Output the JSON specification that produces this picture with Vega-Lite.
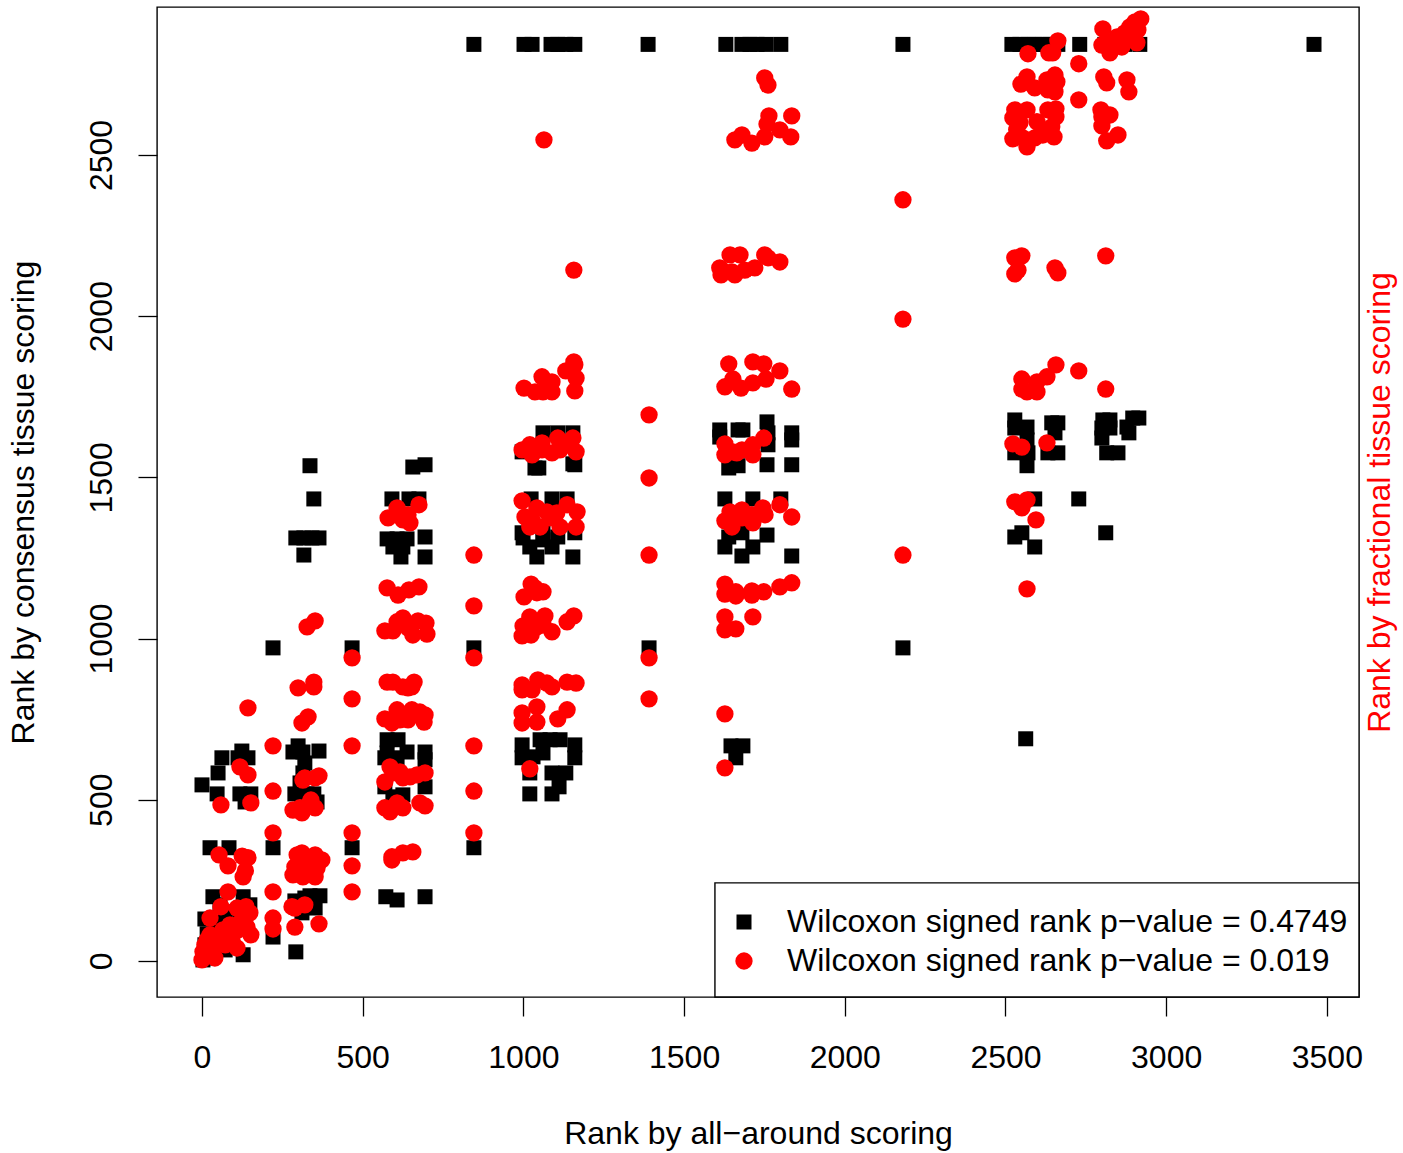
{"$schema":"https://vega.github.io/schema/vega-lite/v6.json","autosize":{"type":"none"},"padding":{"left":157,"top":7,"right":44,"bottom":156},"width":1202,"height":990,"background":"white",
"config":{"font":"Liberation Sans","view":{"stroke":"black","strokeWidth":1.4},"axis":{"grid":false,"domain":false,"tickColor":"black","tickWidth":1.3,"tickSize":19,"labelColor":"black","labelFontSize":32,"titleFontSize":32,"titleFontWeight":"normal","titleColor":"black","labelFont":"Liberation Sans","titleFont":"Liberation Sans"},"legend":{"labelFont":"Liberation Sans"}},
"datasets":{
"box":[{"x":1596,"x2":3600,"y":-112,"y2":242}],
"consensus":[
{"series":"consensus","x":846,"y":2843},{"series":"consensus","x":1002,"y":2843},{"series":"consensus","x":1027,"y":2843},{"series":"consensus","x":1086,"y":2843},{"series":"consensus","x":1107,"y":2843},{"series":"consensus","x":1132,"y":2843},{"series":"consensus","x":1160,"y":2843},{"series":"consensus","x":1388,"y":2843},{"series":"consensus","x":1630,"y":2843},{"series":"consensus","x":1680,"y":2843},{"series":"consensus","x":1705,"y":2843},{"series":"consensus","x":1727,"y":2843},{"series":"consensus","x":1755,"y":2843},{"series":"consensus","x":1801,"y":2843},{"series":"consensus","x":2181,"y":2843},{"series":"consensus","x":2520,"y":2843},{"series":"consensus","x":2545,"y":2843},{"series":"consensus","x":2570,"y":2843},{"series":"consensus","x":2591,"y":2843},{"series":"consensus","x":2616,"y":2843},{"series":"consensus","x":2638,"y":2843},{"series":"consensus","x":2663,"y":2843},{"series":"consensus","x":2731,"y":2843},{"series":"consensus","x":2809,"y":2843},{"series":"consensus","x":2840,"y":2843},{"series":"consensus","x":2871,"y":2843},{"series":"consensus","x":2918,"y":2843},{"series":"consensus","x":3460,"y":2843},
{"series":"consensus","x":62,"y":630},{"series":"consensus","x":124,"y":651},{"series":"consensus","x":143,"y":630},{"series":"consensus","x":112,"y":630},{"series":"consensus","x":50,"y":583},{"series":"consensus","x":0,"y":546},{"series":"consensus","x":47,"y":518},{"series":"consensus","x":118,"y":518},{"series":"consensus","x":152,"y":518},{"series":"consensus","x":134,"y":493},{"series":"consensus","x":25,"y":351},{"series":"consensus","x":84,"y":351},
{"series":"consensus","x":34,"y":199},{"series":"consensus","x":128,"y":199},{"series":"consensus","x":56,"y":174},{"series":"consensus","x":149,"y":174},{"series":"consensus","x":9,"y":130},{"series":"consensus","x":72,"y":152},{"series":"consensus","x":16,"y":84},{"series":"consensus","x":44,"y":112},{"series":"consensus","x":118,"y":143},{"series":"consensus","x":9,"y":50},{"series":"consensus","x":128,"y":19},{"series":"consensus","x":3,"y":3},{"series":"consensus","x":25,"y":9},{"series":"consensus","x":72,"y":34},
{"series":"consensus","x":299,"y":667},{"series":"consensus","x":283,"y":648},{"series":"consensus","x":364,"y":651},{"series":"consensus","x":314,"y":648},{"series":"consensus","x":320,"y":614},{"series":"consensus","x":314,"y":583},{"series":"consensus","x":305,"y":552},{"series":"consensus","x":289,"y":518},{"series":"consensus","x":327,"y":518},{"series":"consensus","x":348,"y":518},{"series":"consensus","x":311,"y":493},{"series":"consensus","x":358,"y":493},
{"series":"consensus","x":367,"y":202},{"series":"consensus","x":336,"y":202},{"series":"consensus","x":289,"y":186},{"series":"consensus","x":320,"y":195},{"series":"consensus","x":352,"y":164},{"series":"consensus","x":311,"y":149},{"series":"consensus","x":292,"y":28},{"series":"consensus","x":221,"y":971},{"series":"consensus","x":336,"y":1536},{"series":"consensus","x":348,"y":1433},{"series":"consensus","x":292,"y":1312},{"series":"consensus","x":317,"y":1312},{"series":"consensus","x":342,"y":1312},{"series":"consensus","x":364,"y":1312},{"series":"consensus","x":317,"y":1259},
{"series":"consensus","x":221,"y":351},{"series":"consensus","x":221,"y":74},{"series":"consensus","x":467,"y":971},{"series":"consensus","x":467,"y":351},{"series":"consensus","x":846,"y":971},{"series":"consensus","x":846,"y":351},{"series":"consensus","x":1391,"y":971},
{"series":"consensus","x":576,"y":686},{"series":"consensus","x":610,"y":686},{"series":"consensus","x":576,"y":645},{"series":"consensus","x":638,"y":648},{"series":"consensus","x":694,"y":648},{"series":"consensus","x":569,"y":630},{"series":"consensus","x":607,"y":630},{"series":"consensus","x":694,"y":624},{"series":"consensus","x":569,"y":540},{"series":"consensus","x":694,"y":540},{"series":"consensus","x":594,"y":509},{"series":"consensus","x":625,"y":515},{"series":"consensus","x":572,"y":199},{"series":"consensus","x":607,"y":189},{"series":"consensus","x":694,"y":199},
{"series":"consensus","x":996,"y":670},{"series":"consensus","x":1052,"y":686},{"series":"consensus","x":1083,"y":686},{"series":"consensus","x":1114,"y":686},{"series":"consensus","x":1160,"y":670},{"series":"consensus","x":996,"y":630},{"series":"consensus","x":1030,"y":633},{"series":"consensus","x":1061,"y":645},{"series":"consensus","x":1160,"y":630},{"series":"consensus","x":1020,"y":583},{"series":"consensus","x":1089,"y":583},{"series":"consensus","x":1132,"y":583},{"series":"consensus","x":1111,"y":540},{"series":"consensus","x":1020,"y":518},{"series":"consensus","x":1089,"y":518},
{"series":"consensus","x":656,"y":1532},{"series":"consensus","x":694,"y":1539},{"series":"consensus","x":591,"y":1433},{"series":"consensus","x":644,"y":1433},{"series":"consensus","x":675,"y":1433},{"series":"consensus","x":576,"y":1309},{"series":"consensus","x":607,"y":1309},{"series":"consensus","x":638,"y":1309},{"series":"consensus","x":694,"y":1315},{"series":"consensus","x":594,"y":1284},{"series":"consensus","x":625,"y":1284},{"series":"consensus","x":619,"y":1253},{"series":"consensus","x":694,"y":1253},
{"series":"consensus","x":1061,"y":1638},{"series":"consensus","x":1107,"y":1638},{"series":"consensus","x":1154,"y":1638},{"series":"consensus","x":996,"y":1579},{"series":"consensus","x":1036,"y":1529},{"series":"consensus","x":1048,"y":1529},{"series":"consensus","x":1154,"y":1542},{"series":"consensus","x":1160,"y":1539},{"series":"consensus","x":1024,"y":1433},{"series":"consensus","x":1089,"y":1433},{"series":"consensus","x":1136,"y":1433},{"series":"consensus","x":996,"y":1328},{"series":"consensus","x":1160,"y":1328},{"series":"consensus","x":999,"y":1312},{"series":"consensus","x":1020,"y":1284},{"series":"consensus","x":1061,"y":1306},{"series":"consensus","x":1089,"y":1284},{"series":"consensus","x":1107,"y":1315},{"series":"consensus","x":1042,"y":1253},{"series":"consensus","x":1154,"y":1253},{"series":"consensus","x":1061,"y":1328},
{"series":"consensus","x":1611,"y":1647},{"series":"consensus","x":1668,"y":1647},{"series":"consensus","x":1683,"y":1647},{"series":"consensus","x":1758,"y":1672},{"series":"consensus","x":1761,"y":1638},{"series":"consensus","x":1835,"y":1638},{"series":"consensus","x":1835,"y":1616},{"series":"consensus","x":1758,"y":1539},{"series":"consensus","x":1835,"y":1539},{"series":"consensus","x":1639,"y":1529},{"series":"consensus","x":1668,"y":1536},{"series":"consensus","x":1611,"y":1625},{"series":"consensus","x":1761,"y":1601},{"series":"consensus","x":1627,"y":1433},{"series":"consensus","x":1714,"y":1433},{"series":"consensus","x":1801,"y":1433},{"series":"consensus","x":1639,"y":1315},{"series":"consensus","x":1680,"y":1328},{"series":"consensus","x":1758,"y":1321},{"series":"consensus","x":1627,"y":1284},{"series":"consensus","x":1714,"y":1284},{"series":"consensus","x":1680,"y":1256},{"series":"consensus","x":1835,"y":1256},
{"series":"consensus","x":1646,"y":667},{"series":"consensus","x":1683,"y":667},{"series":"consensus","x":1661,"y":630},{"series":"consensus","x":2563,"y":689},{"series":"consensus","x":2181,"y":971},
{"series":"consensus","x":2529,"y":1678},{"series":"consensus","x":2567,"y":1656},{"series":"consensus","x":2529,"y":1653},{"series":"consensus","x":2567,"y":1616},{"series":"consensus","x":2529,"y":1576},{"series":"consensus","x":2570,"y":1576},{"series":"consensus","x":2567,"y":1536},{"series":"consensus","x":2644,"y":1669},{"series":"consensus","x":2663,"y":1669},{"series":"consensus","x":2654,"y":1638},{"series":"consensus","x":2632,"y":1576},{"series":"consensus","x":2663,"y":1576},{"series":"consensus","x":2803,"y":1678},{"series":"consensus","x":2825,"y":1678},{"series":"consensus","x":2800,"y":1653},{"series":"consensus","x":2825,"y":1653},{"series":"consensus","x":2800,"y":1622},{"series":"consensus","x":2815,"y":1576},{"series":"consensus","x":2850,"y":1576},{"series":"consensus","x":2878,"y":1656},{"series":"consensus","x":2884,"y":1638},{"series":"consensus","x":2896,"y":1684},{"series":"consensus","x":2915,"y":1684},
{"series":"consensus","x":2591,"y":1433},{"series":"consensus","x":2728,"y":1433},{"series":"consensus","x":2551,"y":1328},{"series":"consensus","x":2529,"y":1315},{"series":"consensus","x":2591,"y":1284},{"series":"consensus","x":2812,"y":1328}
],
"fractional":[
{"series":"fractional","x":2663,"y":2854},{"series":"fractional","x":2647,"y":2817},{"series":"fractional","x":2635,"y":2817},{"series":"fractional","x":2570,"y":2814},{"series":"fractional","x":2803,"y":2891},{"series":"fractional","x":2921,"y":2922},{"series":"fractional","x":2903,"y":2913},{"series":"fractional","x":2887,"y":2897},{"series":"fractional","x":2871,"y":2879},{"series":"fractional","x":2847,"y":2866},{"series":"fractional","x":2825,"y":2848},{"series":"fractional","x":2800,"y":2841},{"series":"fractional","x":2825,"y":2817},{"series":"fractional","x":2862,"y":2835},{"series":"fractional","x":2909,"y":2848},{"series":"fractional","x":2893,"y":2866},{"series":"fractional","x":2912,"y":2888},{"series":"fractional","x":2728,"y":2783},{"series":"fractional","x":2728,"y":2671},{"series":"fractional","x":2567,"y":2742},{"series":"fractional","x":2548,"y":2720},{"series":"fractional","x":2591,"y":2708},{"series":"fractional","x":2629,"y":2733},{"series":"fractional","x":2654,"y":2748},{"series":"fractional","x":2660,"y":2727},{"series":"fractional","x":2654,"y":2696},{"series":"fractional","x":2632,"y":2702},{"series":"fractional","x":2806,"y":2742},{"series":"fractional","x":2815,"y":2724},{"series":"fractional","x":2878,"y":2733},{"series":"fractional","x":2884,"y":2696},
{"series":"fractional","x":2529,"y":2640},{"series":"fractional","x":2567,"y":2640},{"series":"fractional","x":2523,"y":2615},{"series":"fractional","x":2545,"y":2600},{"series":"fractional","x":2598,"y":2603},{"series":"fractional","x":2632,"y":2640},{"series":"fractional","x":2657,"y":2643},{"series":"fractional","x":2657,"y":2618},{"series":"fractional","x":2644,"y":2587},{"series":"fractional","x":2535,"y":2578},{"series":"fractional","x":2523,"y":2550},{"series":"fractional","x":2554,"y":2553},{"series":"fractional","x":2567,"y":2525},{"series":"fractional","x":2591,"y":2553},{"series":"fractional","x":2616,"y":2562},{"series":"fractional","x":2651,"y":2556},{"series":"fractional","x":2797,"y":2640},{"series":"fractional","x":2825,"y":2624},{"series":"fractional","x":2800,"y":2590},{"series":"fractional","x":2800,"y":2618},{"series":"fractional","x":2815,"y":2544},{"series":"fractional","x":2850,"y":2562},
{"series":"fractional","x":1064,"y":2547},{"series":"fractional","x":1157,"y":2143},{"series":"fractional","x":2181,"y":2361},{"series":"fractional","x":2181,"y":1991},{"series":"fractional","x":2181,"y":1259},{"series":"fractional","x":1391,"y":1694},{"series":"fractional","x":1391,"y":1498},{"series":"fractional","x":1391,"y":1259},{"series":"fractional","x":1391,"y":940},{"series":"fractional","x":1391,"y":813},{"series":"fractional","x":846,"y":1259},{"series":"fractional","x":846,"y":1101},{"series":"fractional","x":846,"y":940},{"series":"fractional","x":846,"y":667},{"series":"fractional","x":846,"y":527},{"series":"fractional","x":846,"y":397},{"series":"fractional","x":221,"y":667},{"series":"fractional","x":221,"y":527},{"series":"fractional","x":221,"y":397},{"series":"fractional","x":221,"y":214},{"series":"fractional","x":221,"y":133},{"series":"fractional","x":221,"y":99},{"series":"fractional","x":467,"y":940},{"series":"fractional","x":467,"y":813},{"series":"fractional","x":467,"y":667},{"series":"fractional","x":467,"y":397},{"series":"fractional","x":467,"y":295},{"series":"fractional","x":467,"y":214},
{"series":"fractional","x":143,"y":785},{"series":"fractional","x":118,"y":602},{"series":"fractional","x":143,"y":577},{"series":"fractional","x":59,"y":484},{"series":"fractional","x":152,"y":490},{"series":"fractional","x":53,"y":329},{"series":"fractional","x":81,"y":295},{"series":"fractional","x":143,"y":320},{"series":"fractional","x":125,"y":325},{"series":"fractional","x":128,"y":261},{"series":"fractional","x":135,"y":280},{"series":"fractional","x":81,"y":214},{"series":"fractional","x":59,"y":168},{"series":"fractional","x":25,"y":133},{"series":"fractional","x":109,"y":164},{"series":"fractional","x":137,"y":168},{"series":"fractional","x":149,"y":149},{"series":"fractional","x":152,"y":81},{"series":"fractional","x":109,"y":40},{"series":"fractional","x":140,"y":105},{"series":"fractional","x":118,"y":118},{"series":"fractional","x":93,"y":87},{"series":"fractional","x":65,"y":74},{"series":"fractional","x":40,"y":56},{"series":"fractional","x":16,"y":65},{"series":"fractional","x":40,"y":9},{"series":"fractional","x":0,"y":3},{"series":"fractional","x":3,"y":28},{"series":"fractional","x":9,"y":50},{"series":"fractional","x":65,"y":96},{"series":"fractional","x":93,"y":65},{"series":"fractional","x":25,"y":81},{"series":"fractional","x":112,"y":96},{"series":"fractional","x":19,"y":19},{"series":"fractional","x":72,"y":50},{"series":"fractional","x":50,"y":74},{"series":"fractional","x":31,"y":34},{"series":"fractional","x":9,"y":19},{"series":"fractional","x":87,"y":112},{"series":"fractional","x":131,"y":143},
{"series":"fractional","x":299,"y":847},{"series":"fractional","x":348,"y":865},{"series":"fractional","x":348,"y":850},{"series":"fractional","x":330,"y":757},{"series":"fractional","x":311,"y":738},{"series":"fractional","x":320,"y":568},{"series":"fractional","x":352,"y":568},{"series":"fractional","x":364,"y":574},{"series":"fractional","x":314,"y":561},{"series":"fractional","x":283,"y":468},{"series":"fractional","x":311,"y":459},{"series":"fractional","x":336,"y":490},{"series":"fractional","x":352,"y":475},{"series":"fractional","x":305,"y":475},{"series":"fractional","x":339,"y":499},{"series":"fractional","x":296,"y":329},{"series":"fractional","x":311,"y":335},{"series":"fractional","x":352,"y":329},{"series":"fractional","x":373,"y":313},{"series":"fractional","x":283,"y":267},{"series":"fractional","x":314,"y":261},{"series":"fractional","x":352,"y":261},{"series":"fractional","x":327,"y":292},{"series":"fractional","x":289,"y":292},{"series":"fractional","x":358,"y":288},{"series":"fractional","x":280,"y":168},{"series":"fractional","x":320,"y":174},{"series":"fractional","x":289,"y":164},{"series":"fractional","x":289,"y":105},{"series":"fractional","x":364,"y":115},{"series":"fractional","x":327,"y":1036},{"series":"fractional","x":352,"y":1055},
{"series":"fractional","x":579,"y":1374},{"series":"fractional","x":607,"y":1405},{"series":"fractional","x":625,"y":1368},{"series":"fractional","x":647,"y":1359},{"series":"fractional","x":675,"y":1415},{"series":"fractional","x":641,"y":1384},{"series":"fractional","x":576,"y":1157},{"series":"fractional","x":610,"y":1135},{"series":"fractional","x":644,"y":1151},{"series":"fractional","x":675,"y":1160},{"series":"fractional","x":569,"y":1024},{"series":"fractional","x":594,"y":1024},{"series":"fractional","x":607,"y":1052},{"series":"fractional","x":625,"y":1064},{"series":"fractional","x":656,"y":1011},{"series":"fractional","x":672,"y":1055},{"series":"fractional","x":697,"y":1048},{"series":"fractional","x":700,"y":1014},{"series":"fractional","x":641,"y":1033},{"series":"fractional","x":576,"y":865},{"series":"fractional","x":594,"y":865},{"series":"fractional","x":625,"y":850},{"series":"fractional","x":641,"y":847},{"series":"fractional","x":660,"y":865},{"series":"fractional","x":653,"y":850},{"series":"fractional","x":607,"y":779},{"series":"fractional","x":569,"y":751},{"series":"fractional","x":591,"y":738},{"series":"fractional","x":616,"y":748},{"series":"fractional","x":653,"y":779},{"series":"fractional","x":678,"y":772},{"series":"fractional","x":694,"y":763},{"series":"fractional","x":691,"y":741},{"series":"fractional","x":641,"y":748},{"series":"fractional","x":585,"y":602},{"series":"fractional","x":569,"y":555},{"series":"fractional","x":625,"y":568},{"series":"fractional","x":594,"y":583},{"series":"fractional","x":647,"y":571},{"series":"fractional","x":694,"y":583},{"series":"fractional","x":669,"y":577},{"series":"fractional","x":616,"y":586},{"series":"fractional","x":569,"y":475},{"series":"fractional","x":607,"y":490},{"series":"fractional","x":585,"y":462},{"series":"fractional","x":625,"y":475},{"series":"fractional","x":678,"y":490},{"series":"fractional","x":694,"y":481},{"series":"fractional","x":591,"y":323},{"series":"fractional","x":625,"y":335},{"series":"fractional","x":656,"y":338},{"series":"fractional","x":591,"y":313},
{"series":"fractional","x":996,"y":1427},{"series":"fractional","x":1005,"y":1377},{"series":"fractional","x":1020,"y":1346},{"series":"fractional","x":1042,"y":1405},{"series":"fractional","x":1052,"y":1346},{"series":"fractional","x":1083,"y":1374},{"series":"fractional","x":1114,"y":1346},{"series":"fractional","x":1136,"y":1415},{"series":"fractional","x":1167,"y":1393},{"series":"fractional","x":1164,"y":1346},{"series":"fractional","x":1073,"y":1393},{"series":"fractional","x":1104,"y":1390},{"series":"fractional","x":1027,"y":1368},{"series":"fractional","x":996,"y":1585},{"series":"fractional","x":1020,"y":1601},{"series":"fractional","x":1058,"y":1607},{"series":"fractional","x":1027,"y":1570},{"series":"fractional","x":1089,"y":1576},{"series":"fractional","x":1107,"y":1622},{"series":"fractional","x":1154,"y":1622},{"series":"fractional","x":1164,"y":1579},{"series":"fractional","x":1139,"y":1601},{"series":"fractional","x":1114,"y":1585},{"series":"fractional","x":1058,"y":1585},{"series":"fractional","x":1002,"y":1777},{"series":"fractional","x":1058,"y":1812},{"series":"fractional","x":1089,"y":1796},{"series":"fractional","x":1089,"y":1765},{"series":"fractional","x":1036,"y":1765},{"series":"fractional","x":1061,"y":1765},{"series":"fractional","x":1132,"y":1830},{"series":"fractional","x":1157,"y":1858},{"series":"fractional","x":1160,"y":1849},{"series":"fractional","x":1164,"y":1808},{"series":"fractional","x":1160,"y":1768},{"series":"fractional","x":1024,"y":1169},{"series":"fractional","x":1061,"y":1145},{"series":"fractional","x":1002,"y":1129},{"series":"fractional","x":1036,"y":1157},{"series":"fractional","x":1042,"y":1142},{"series":"fractional","x":1020,"y":1067},{"series":"fractional","x":1067,"y":1070},{"series":"fractional","x":999,"y":1039},{"series":"fractional","x":996,"y":1008},{"series":"fractional","x":1024,"y":1011},{"series":"fractional","x":1089,"y":1021},{"series":"fractional","x":1042,"y":1036},{"series":"fractional","x":1136,"y":1052},{"series":"fractional","x":1157,"y":1070},{"series":"fractional","x":1061,"y":1042},{"series":"fractional","x":996,"y":856},{"series":"fractional","x":1027,"y":841},{"series":"fractional","x":1045,"y":872},{"series":"fractional","x":1089,"y":850},{"series":"fractional","x":1136,"y":865},{"series":"fractional","x":1164,"y":862},{"series":"fractional","x":1073,"y":862},{"series":"fractional","x":996,"y":841},{"series":"fractional","x":996,"y":769},{"series":"fractional","x":1042,"y":788},{"series":"fractional","x":1042,"y":741},{"series":"fractional","x":996,"y":738},{"series":"fractional","x":1136,"y":779},{"series":"fractional","x":1107,"y":751},{"series":"fractional","x":1020,"y":596},
{"series":"fractional","x":1639,"y":1852},{"series":"fractional","x":1714,"y":1858},{"series":"fractional","x":1748,"y":1852},{"series":"fractional","x":1798,"y":1830},{"series":"fractional","x":1652,"y":1805},{"series":"fractional","x":1627,"y":1781},{"series":"fractional","x":1677,"y":1777},{"series":"fractional","x":1714,"y":1793},{"series":"fractional","x":1755,"y":1805},{"series":"fractional","x":1835,"y":1774},{"series":"fractional","x":1627,"y":1604},{"series":"fractional","x":1627,"y":1570},{"series":"fractional","x":1664,"y":1576},{"series":"fractional","x":1680,"y":1585},{"series":"fractional","x":1714,"y":1570},{"series":"fractional","x":1714,"y":1601},{"series":"fractional","x":1748,"y":1622},{"series":"fractional","x":1652,"y":1579},{"series":"fractional","x":1643,"y":1393},{"series":"fractional","x":1680,"y":1399},{"series":"fractional","x":1627,"y":1365},{"series":"fractional","x":1649,"y":1346},{"series":"fractional","x":1680,"y":1374},{"series":"fractional","x":1714,"y":1359},{"series":"fractional","x":1745,"y":1405},{"series":"fractional","x":1752,"y":1384},{"series":"fractional","x":1798,"y":1415},{"series":"fractional","x":1835,"y":1377},{"series":"fractional","x":1711,"y":1384},{"series":"fractional","x":1627,"y":1169},{"series":"fractional","x":1627,"y":1138},{"series":"fractional","x":1661,"y":1132},{"series":"fractional","x":1661,"y":1145},{"series":"fractional","x":1711,"y":1148},{"series":"fractional","x":1711,"y":1135},{"series":"fractional","x":1748,"y":1145},{"series":"fractional","x":1798,"y":1160},{"series":"fractional","x":1835,"y":1173},{"series":"fractional","x":1627,"y":1067},{"series":"fractional","x":1627,"y":1027},{"series":"fractional","x":1661,"y":1030},{"series":"fractional","x":1714,"y":1067},{"series":"fractional","x":1627,"y":766},{"series":"fractional","x":1627,"y":599},
{"series":"fractional","x":1751,"y":2739},{"series":"fractional","x":1761,"y":2717},{"series":"fractional","x":1764,"y":2621},{"series":"fractional","x":1758,"y":2596},{"series":"fractional","x":1835,"y":2621},{"series":"fractional","x":1798,"y":2578},{"series":"fractional","x":1751,"y":2556},{"series":"fractional","x":1658,"y":2547},{"series":"fractional","x":1680,"y":2562},{"series":"fractional","x":1711,"y":2537},{"series":"fractional","x":1832,"y":2556},{"series":"fractional","x":1611,"y":2150},{"series":"fractional","x":1615,"y":2128},{"series":"fractional","x":1643,"y":2190},{"series":"fractional","x":1674,"y":2190},{"series":"fractional","x":1658,"y":2128},{"series":"fractional","x":1689,"y":2143},{"series":"fractional","x":1720,"y":2150},{"series":"fractional","x":1751,"y":2190},{"series":"fractional","x":1798,"y":2168},{"series":"fractional","x":1649,"y":2137},{"series":"fractional","x":1618,"y":2143},{"series":"fractional","x":1761,"y":2181},
{"series":"fractional","x":2551,"y":1805},{"series":"fractional","x":2551,"y":1774},{"series":"fractional","x":2567,"y":1765},{"series":"fractional","x":2598,"y":1796},{"series":"fractional","x":2598,"y":1765},{"series":"fractional","x":2629,"y":1812},{"series":"fractional","x":2657,"y":1849},{"series":"fractional","x":2728,"y":1830},{"series":"fractional","x":2812,"y":1774},{"series":"fractional","x":2523,"y":1604},{"series":"fractional","x":2551,"y":1594},{"series":"fractional","x":2629,"y":1607},{"series":"fractional","x":2529,"y":1424},{"series":"fractional","x":2567,"y":1430},{"series":"fractional","x":2551,"y":1405},{"series":"fractional","x":2595,"y":1368},{"series":"fractional","x":2567,"y":1154},{"series":"fractional","x":2529,"y":2181},{"series":"fractional","x":2551,"y":2187},{"series":"fractional","x":2529,"y":2131},{"series":"fractional","x":2539,"y":2143},{"series":"fractional","x":2654,"y":2150},{"series":"fractional","x":2663,"y":2134},{"series":"fractional","x":2812,"y":2187}
]},
"resolve":{"scale":{"y":"independent"}},
"layer":[
{"data":{"name":"box"},"mark":{"type":"rect","fill":"white","stroke":"black","strokeWidth":1.4},
"encoding":{"x":{"field":"x","type":"quantitative","scale":{"domain":[-140,3600],"nice":false,"zero":false},"axis":{"title":"Rank by all−around scoring","format":"d","values":[0,500,1000,1500,2000,2500,3000,3500],"labelPadding":26,"titlePadding":45,"labelOverlap":false,"labelFlush":false}},"x2":{"field":"x2"},"y":{"field":"y","type":"quantitative","scale":{"domain":[-112,2959],"nice":false,"zero":false},"axis":{"title":"Rank by consensus tissue scoring","format":"d","values":[0,500,1000,1500,2000,2500],"labelAngle":-90,"labelAlign":"center","labelBaseline":"bottom","labelPadding":20,"titlePadding":45,"labelOverlap":false,"labelFlush":false}},"y2":{"field":"y2"}}},
{"data":{"name":"consensus"},"mark":{"type":"point","filled":true,"opacity":1},
"encoding":{"x":{"field":"x","type":"quantitative","scale":{"domain":[-140,3600],"nice":false,"zero":false}},"y":{"field":"y","type":"quantitative","scale":{"domain":[-112,2959],"nice":false,"zero":false},"axis":null},
"color":{"field":"series","type":"nominal","scale":{"domain":["consensus","fractional"],"range":["#000000","#ff0000"]},"legend":{"orient":"none","legendX":571,"legendY":899,"title":null,"padding":0,"labelFontSize":32,"labelColor":"black","labelLimit":800,"rowPadding":7,"labelOffset":27,"symbolOpacity":1,"labelExpr":"datum.label == 'consensus' ? 'Wilcoxon signed rank p−value = 0.4749' : 'Wilcoxon signed rank p−value = 0.019'"}},
"shape":{"field":"series","type":"nominal","scale":{"domain":["consensus","fractional"],"range":["square","circle"]}},
"size":{"field":"series","type":"nominal","scale":{"domain":["consensus","fractional"],"range":[225,300]}}}},
{"data":{"name":"fractional"},"mark":{"type":"point","filled":true,"opacity":1},
"encoding":{"x":{"field":"x","type":"quantitative","scale":{"domain":[-140,3600],"nice":false,"zero":false}},"y":{"field":"y","type":"quantitative","scale":{"domain":[-112,2959],"nice":false,"zero":false},"axis":{"orient":"right","title":"Rank by fractional tissue scoring","titleColor":"#ff0000","titleAngle":-90,"titleBaseline":"bottom","labels":false,"ticks":false,"titlePadding":37}},
"color":{"field":"series","type":"nominal","scale":{"domain":["consensus","fractional"],"range":["#000000","#ff0000"]}},
"shape":{"field":"series","type":"nominal","scale":{"domain":["consensus","fractional"],"range":["square","circle"]}},
"size":{"field":"series","type":"nominal","scale":{"domain":["consensus","fractional"],"range":[225,300]}}}}
]}
